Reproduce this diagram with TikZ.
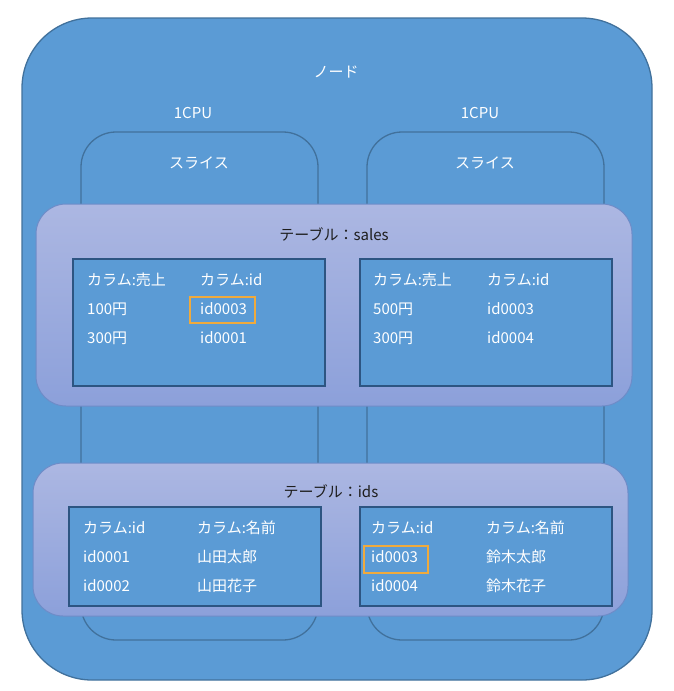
\documentclass[tikz,border=0pt]{standalone}
\usepackage{fontspec}
\setmainfont{Noto Sans CJK JP}
\begin{document}
\begin{tikzpicture}[x=1pt,y=-1pt,
  blue/.style={fill={rgb,255:red,91;green,155;blue,213},draw={rgb,255:red,65;green,113;blue,156},line width=1.3pt},
  band/.style={top color={rgb,255:red,172;green,183;blue,226},bottom color={rgb,255:red,140;green,160;blue,218},draw={rgb,255:red,110;green,140;blue,200},line width=1pt,rounded corners=30pt},
  inner/.style={fill={rgb,255:red,91;green,155;blue,213},draw={rgb,255:red,45;green,85;blue,130},line width=1.3pt},
  wt/.style={text=white,font=\fontsize{15}{17}\selectfont,inner sep=0pt},
  lt/.style={wt,anchor=west},
  dk/.style={text={rgb,255:red,30;green,30;blue,30},font=\fontsize{15}{17}\selectfont,inner sep=0pt},
  hl/.style={draw={rgb,255:red,240;green,170;blue,60},line width=1.3pt}]
\useasboundingbox (0,0) rectangle (673,691);
\draw[blue,rounded corners=70pt] (22,18) rectangle (652,680);
\node[wt] (node) at (336,72) {ノード};
\node[wt] (c1) at (193,113) {1CPU};
\node[wt] (c2) at (480,113) {1CPU};
\draw[blue,rounded corners=35pt] (81,132) rectangle (318,640);
\draw[blue,rounded corners=35pt] (367,132) rectangle (604,640);
\node[wt] (s1) at (199,163) {スライス};
\node[wt] (s2) at (485,163) {スライス};
% sales
\draw[band] (36,204) rectangle (632,406);
\node[dk] (ts) at (334,234) {テーブル：sales};
\draw[inner] (73,259) rectangle (325,386);
\draw[inner] (360,259) rectangle (612,386);
\node[lt] (a1) at (87,280) {カラム:売上};
\node[lt] (a2) at (200,280) {カラム:id};
\node[lt] (a3) at (87,309) {100円};
\node[lt] (a4) at (200,309) {id0003};
\node[lt] (a5) at (87,338) {300円};
\node[lt] (a6) at (200,338) {id0001};
\draw[hl] (190,297) rectangle (255,323);
\node[lt] (b1) at (373,280) {カラム:売上};
\node[lt] (b2) at (487,280) {カラム:id};
\node[lt] (b3) at (373,309) {500円};
\node[lt] (b4) at (487,309) {id0003};
\node[lt] (b5) at (373,338) {300円};
\node[lt] (b6) at (487,338) {id0004};
% ids
\draw[band] (33,463) rectangle (628,616);
\node[dk] (ti) at (331,491) {テーブル：ids};
\draw[inner] (69,507) rectangle (321,606);
\draw[inner] (360,507) rectangle (612,606);
\node[lt] (d1) at (83,528) {カラム:id};
\node[lt] (d2) at (197,528) {カラム:名前};
\node[lt] (d3) at (83,557) {id0001};
\node[lt] (d4) at (197,557) {山田太郎};
\node[lt] (d5) at (83,586) {id0002};
\node[lt] (d6) at (197,586) {山田花子};
\node[lt] (e1) at (371,528) {カラム:id};
\node[lt] (e2) at (486,528) {カラム:名前};
\node[lt] (e3) at (371,557) {id0003};
\node[lt] (e4) at (486,557) {鈴木太郎};
\node[lt] (e5) at (371,586) {id0004};
\node[lt] (e6) at (486,586) {鈴木花子};
\draw[hl] (364,546) rectangle (428,573);
\end{tikzpicture}
\end{document}
